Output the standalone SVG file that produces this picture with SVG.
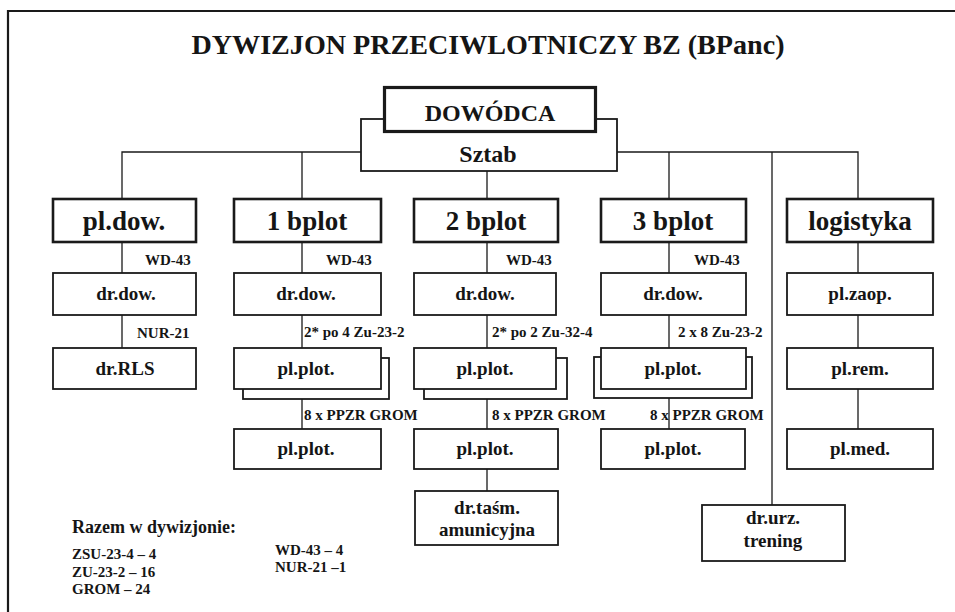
<svg xmlns="http://www.w3.org/2000/svg" width="955" height="612" viewBox="0 0 955 612">
<defs>
<style>
text{font-family:"Liberation Serif","Times New Roman",serif;font-weight:bold;fill:#151515}
.t{font-size:28px}
.top{font-size:24px}
.h{font-size:27px}
.s{font-size:19px}
.l{font-size:15px}
.r{font-size:18px}
.c{text-anchor:middle}
.bx{fill:#fff;stroke:#1a1a1a;stroke-width:1.8}
.hb{fill:#fff;stroke:#1a1a1a;stroke-width:2.6}
.cb{fill:#fff;stroke:#1a1a1a;stroke-width:3.2}
.ln{fill:none;stroke:#1a1a1a;stroke-width:1.3}
</style>
</defs>
<rect width="955" height="612" fill="#fff"/>
<path d="M8,612 V11 H955" fill="none" stroke="#1a1a1a" stroke-width="2.2"/>
<text class="t c" x="488" y="54" textLength="593" lengthAdjust="spacingAndGlyphs">DYWIZJON PRZECIWLOTNICZY BZ (BPanc)</text>

<g id="connectors">
<path class="ln" d="M122,198 V152 H361 M617,152 H858 V198 M302,152 V198 M669,152 V198 M772,152 V505 M487,171 V198"/>
<path class="ln" d="M122,243 V273 M122,315 V348"/>
<path class="ln" d="M302,243 V273 M302,315 V348 M302,399 V429"/>
<path class="ln" d="M487,243 V273 M487,315 V348 M487,399 V429 M487,469 V491"/>
<path class="ln" d="M669,243 V273 M669,315 V348 M669,398 V429"/>
<path class="ln" d="M858,243 V273 M858,315 V348 M858,389 V429"/>
</g>

<g id="sztab"><rect class="bx" x="361" y="119" width="256" height="52"/><text class="top c" x="488" y="162">Sztab</text></g>
<g id="dowodca"><rect class="cb" x="384.5" y="87.5" width="211" height="44"/><text class="top c" x="490" y="121">DOWÓDCA</text></g>

<g id="pldow"><rect class="hb" x="53" y="199" width="143" height="43"/><text class="h c" x="124" y="230">pl.dow.</text></g>
<g id="b1"><rect class="hb" x="234" y="199" width="147" height="43"/><text class="h c" x="307" y="230">1 bplot</text></g>
<g id="b2"><rect class="hb" x="414" y="199" width="144" height="43"/><text class="h c" x="486" y="230">2 bplot</text></g>
<g id="b3"><rect class="hb" x="601" y="199" width="145" height="43"/><text class="h c" x="673" y="230">3 bplot</text></g>
<g id="log"><rect class="hb" x="787" y="199" width="146" height="43"/><text class="h c" x="860" y="230">logistyka</text></g>

<g id="labels">
<text class="l" x="145" y="265">WD-43</text>
<text class="l" x="137" y="338">NUR-21</text>
<text class="l" x="326" y="265">WD-43</text>
<text class="l" x="304" y="337">2* po 4 Zu-23-2</text>
<text class="l" x="304" y="420">8 x PPZR GROM</text>
<text class="l" x="506" y="265">WD-43</text>
<text class="l" x="492" y="337">2* po 2 Zu-32-4</text>
<text class="l" x="492" y="420">8 x PPZR GROM</text>
<text class="l" x="694" y="265">WD-43</text>
<text class="l" x="678" y="337">2 x 8 Zu-23-2</text>
<text class="l" x="650" y="420">8 x PPZR GROM</text>
</g>

<g id="c1r1"><rect class="bx" x="53" y="273" width="143" height="42"/><text class="s c" x="126" y="300">dr.dow.</text></g>
<g id="c1r2"><rect class="bx" x="53" y="348" width="143" height="41"/><text class="s c" x="125" y="375">dr.RLS</text></g>

<g id="c2r1"><rect class="bx" x="234" y="273" width="147" height="42"/><text class="s c" x="306" y="300">dr.dow.</text></g>
<g id="c2r2"><rect class="bx" x="243" y="358" width="146" height="41"/><rect class="bx" x="234" y="348" width="147" height="41"/><text class="s c" x="306" y="375">pl.plot.</text></g>
<g id="c2r3"><rect class="bx" x="234" y="429" width="147" height="40"/><text class="s c" x="306" y="455">pl.plot.</text></g>

<g id="c3r1"><rect class="bx" x="414" y="273" width="142" height="42"/><text class="s c" x="485" y="300">dr.dow.</text></g>
<g id="c3r2"><rect class="bx" x="424" y="358" width="143" height="41"/><rect class="bx" x="414" y="348" width="142" height="41"/><text class="s c" x="485" y="375">pl.plot.</text></g>
<g id="c3r3"><rect class="bx" x="414" y="429" width="144" height="40"/><text class="s c" x="485" y="455">pl.plot.</text></g>
<g id="c3r4"><rect class="bx" x="415" y="491" width="143" height="54"/><text class="s c" x="487" y="514">dr.taśm.</text><text class="s c" x="487" y="536">amunicyjna</text></g>

<g id="c4r1"><rect class="bx" x="601" y="273" width="145" height="42"/><text class="s c" x="673" y="300">dr.dow.</text></g>
<g id="c4r2"><rect class="bx" x="594" y="357" width="158" height="41"/><rect class="bx" x="601" y="348" width="145" height="41"/><text class="s c" x="673" y="375">pl.plot.</text></g>
<g id="c4r3"><rect class="bx" x="601" y="429" width="144" height="40"/><text class="s c" x="673" y="455">pl.plot.</text></g>

<g id="urz"><rect class="bx" x="702" y="505" width="143" height="56"/><text class="s c" x="773" y="524">dr.urz.</text><text class="s c" x="773" y="547">trening</text></g>

<g id="c5r1"><rect class="bx" x="787" y="273" width="146" height="42"/><text class="s c" x="860" y="300">pl.zaop.</text></g>
<g id="c5r2"><rect class="bx" x="787" y="348" width="146" height="41"/><text class="s c" x="860" y="375">pl.rem.</text></g>
<g id="c5r3"><rect class="bx" x="787" y="429" width="146" height="40"/><text class="s c" x="860" y="455">pl.med.</text></g>

<g id="summary">
<text class="r" x="72" y="533">Razem w dywizjonie:</text>
<text class="l" x="72" y="559">ZSU-23-4 – 4</text>
<text class="l" x="72" y="577">ZU-23-2 – 16</text>
<text class="l" x="72" y="594">GROM – 24</text>
<text class="l" x="275" y="555">WD-43 – 4</text>
<text class="l" x="275" y="572">NUR-21 –1</text>
</g>
</svg>
